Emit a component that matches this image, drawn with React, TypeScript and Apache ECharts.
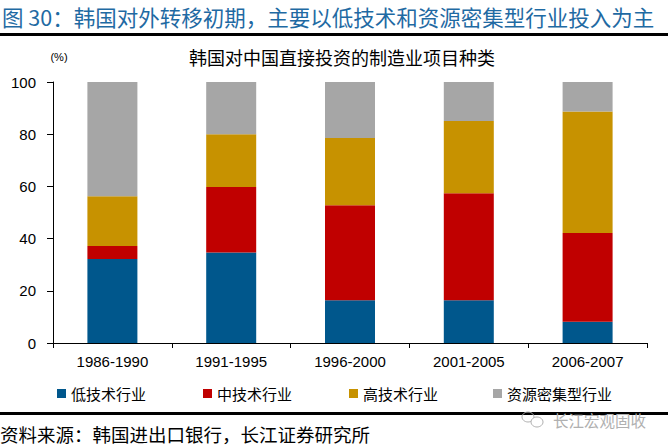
import React, { useEffect, useRef } from "react";
import * as echarts from "echarts";

const categories = ["1986-1990", "1991-1995", "1996-2000", "2001-2005", "2006-2007"];
const seriesNames = ["低技术行业", "中技术行业", "高技术行业", "资源密集型行业"];
const lowTech = [32.2, 34.7, 16.4, 16.4, 8.1];
const midTech = [5.0, 25.1, 36.4, 41.0, 34.0];
const highTech = [19.0, 20.2, 25.7, 27.7, 46.6];
const resourceIntensive = [43.8, 20.0, 21.5, 14.9, 11.3];
const seriesColors = ["#00578c", "#c00000", "#c79200", "#a6a6a6"];
const legendLefts = [57, 203, 349, 493];

const CJK = '"Noto Sans CJK SC", "Noto Sans", sans-serif';
const NUM = '"Liberation Sans", Arial, sans-serif';

export default function App() {
  const ref = useRef<HTMLDivElement>(null);
  useEffect(() => {
    if (!ref.current) return;
    const chart = echarts.init(ref.current, undefined, { renderer: "svg" });
    const dataSets = [lowTech, midTech, highTech, resourceIntensive];
    const option: any = {
      animation: false,
      backgroundColor: "#ffffff",
      grid: { left: 53, right: 21, top: 82, bottom: 104, containLabel: false },
      legend: seriesNames.map((n, i) => ({
        data: [n],
        left: legendLefts[i],
        top: 386,
        icon: "rect",
        itemWidth: 9,
        itemHeight: 9,
        padding: 0,
        textStyle: { fontFamily: CJK, fontSize: 15, color: "#000" },
        selectedMode: false,
      })),
      xAxis: {
        type: "category",
        data: categories,
        axisLine: { lineStyle: { color: "#000", width: 1 } },
        axisTick: { show: true, length: 5, lineStyle: { color: "#000" }, alignWithLabel: false },
        axisLabel: { fontFamily: NUM, fontSize: 15, color: "#000", margin: 11 },
      },
      yAxis: {
        type: "value",
        min: 0,
        max: 100,
        interval: 20,
        splitLine: { show: false },
        axisLine: { show: true, lineStyle: { color: "#000", width: 1 } },
        axisTick: { show: true, length: 6, lineStyle: { color: "#000" } },
        axisLabel: { fontFamily: NUM, fontSize: 15, color: "#000", margin: 17 },
      },
      series: dataSets.map((d, i) => ({
        name: seriesNames[i],
        type: "bar",
        stack: "total",
        barWidth: 50,
        data: d,
        itemStyle: { color: seriesColors[i] },
      })),
      graphic: [
        {
          type: "text",
          x: 2,
          y: 16,
          style: {
            text: "图 30：韩国对外转移初期，主要以低技术和资源密集型行业投入为主",
            font: `21.5px ${CJK}`,
            fill: "#1f6aa3",
            textVerticalAlign: "middle",
          },
        },
        { type: "rect", shape: { x: 0, y: 33, width: 668, height: 3 }, style: { fill: "#000" } },
        {
          type: "text",
          x: 342,
          y: 57,
          style: {
            text: "韩国对中国直接投资的制造业项目种类",
            font: `18px ${CJK}`,
            fill: "#000",
            textAlign: "center",
            textVerticalAlign: "middle",
          },
        },
        {
          type: "text",
          x: 59,
          y: 57,
          style: { text: "(%)", font: `11px ${NUM}`, fill: "#000", textAlign: "center", textVerticalAlign: "middle" },
        },
        { type: "rect", shape: { x: 0, y: 412, width: 668, height: 3 }, style: { fill: "#000" } },
        {
          type: "text",
          x: 0,
          y: 434,
          style: {
            text: "资料来源：韩国进出口银行，长江证券研究所",
            font: `18.5px ${CJK}`,
            fill: "#000",
            textVerticalAlign: "middle",
          },
        },
        { type: "ellipse", shape: { cx: 528, cy: 417, rx: 6, ry: 5 }, style: { fill: "none", stroke: "#b0b0b0", lineWidth: 1 } },
        { type: "ellipse", shape: { cx: 537, cy: 422, rx: 6, ry: 5 }, style: { fill: "#fff", stroke: "#b0b0b0", lineWidth: 1 } },
        {
          type: "text",
          x: 553,
          y: 420,
          style: {
            text: "长江宏观固收",
            font: `15.5px ${CJK}`,
            fill: "#b0b0b0",
            textVerticalAlign: "middle",
          },
        },
      ],
    };
    chart.setOption(option);
    return () => chart.dispose();
  }, []);
  return (
    <div
      ref={ref}
      style={{ position: "fixed", left: 0, top: 0, width: 668, height: 447, background: "#fff" }}
    />
  );
}
